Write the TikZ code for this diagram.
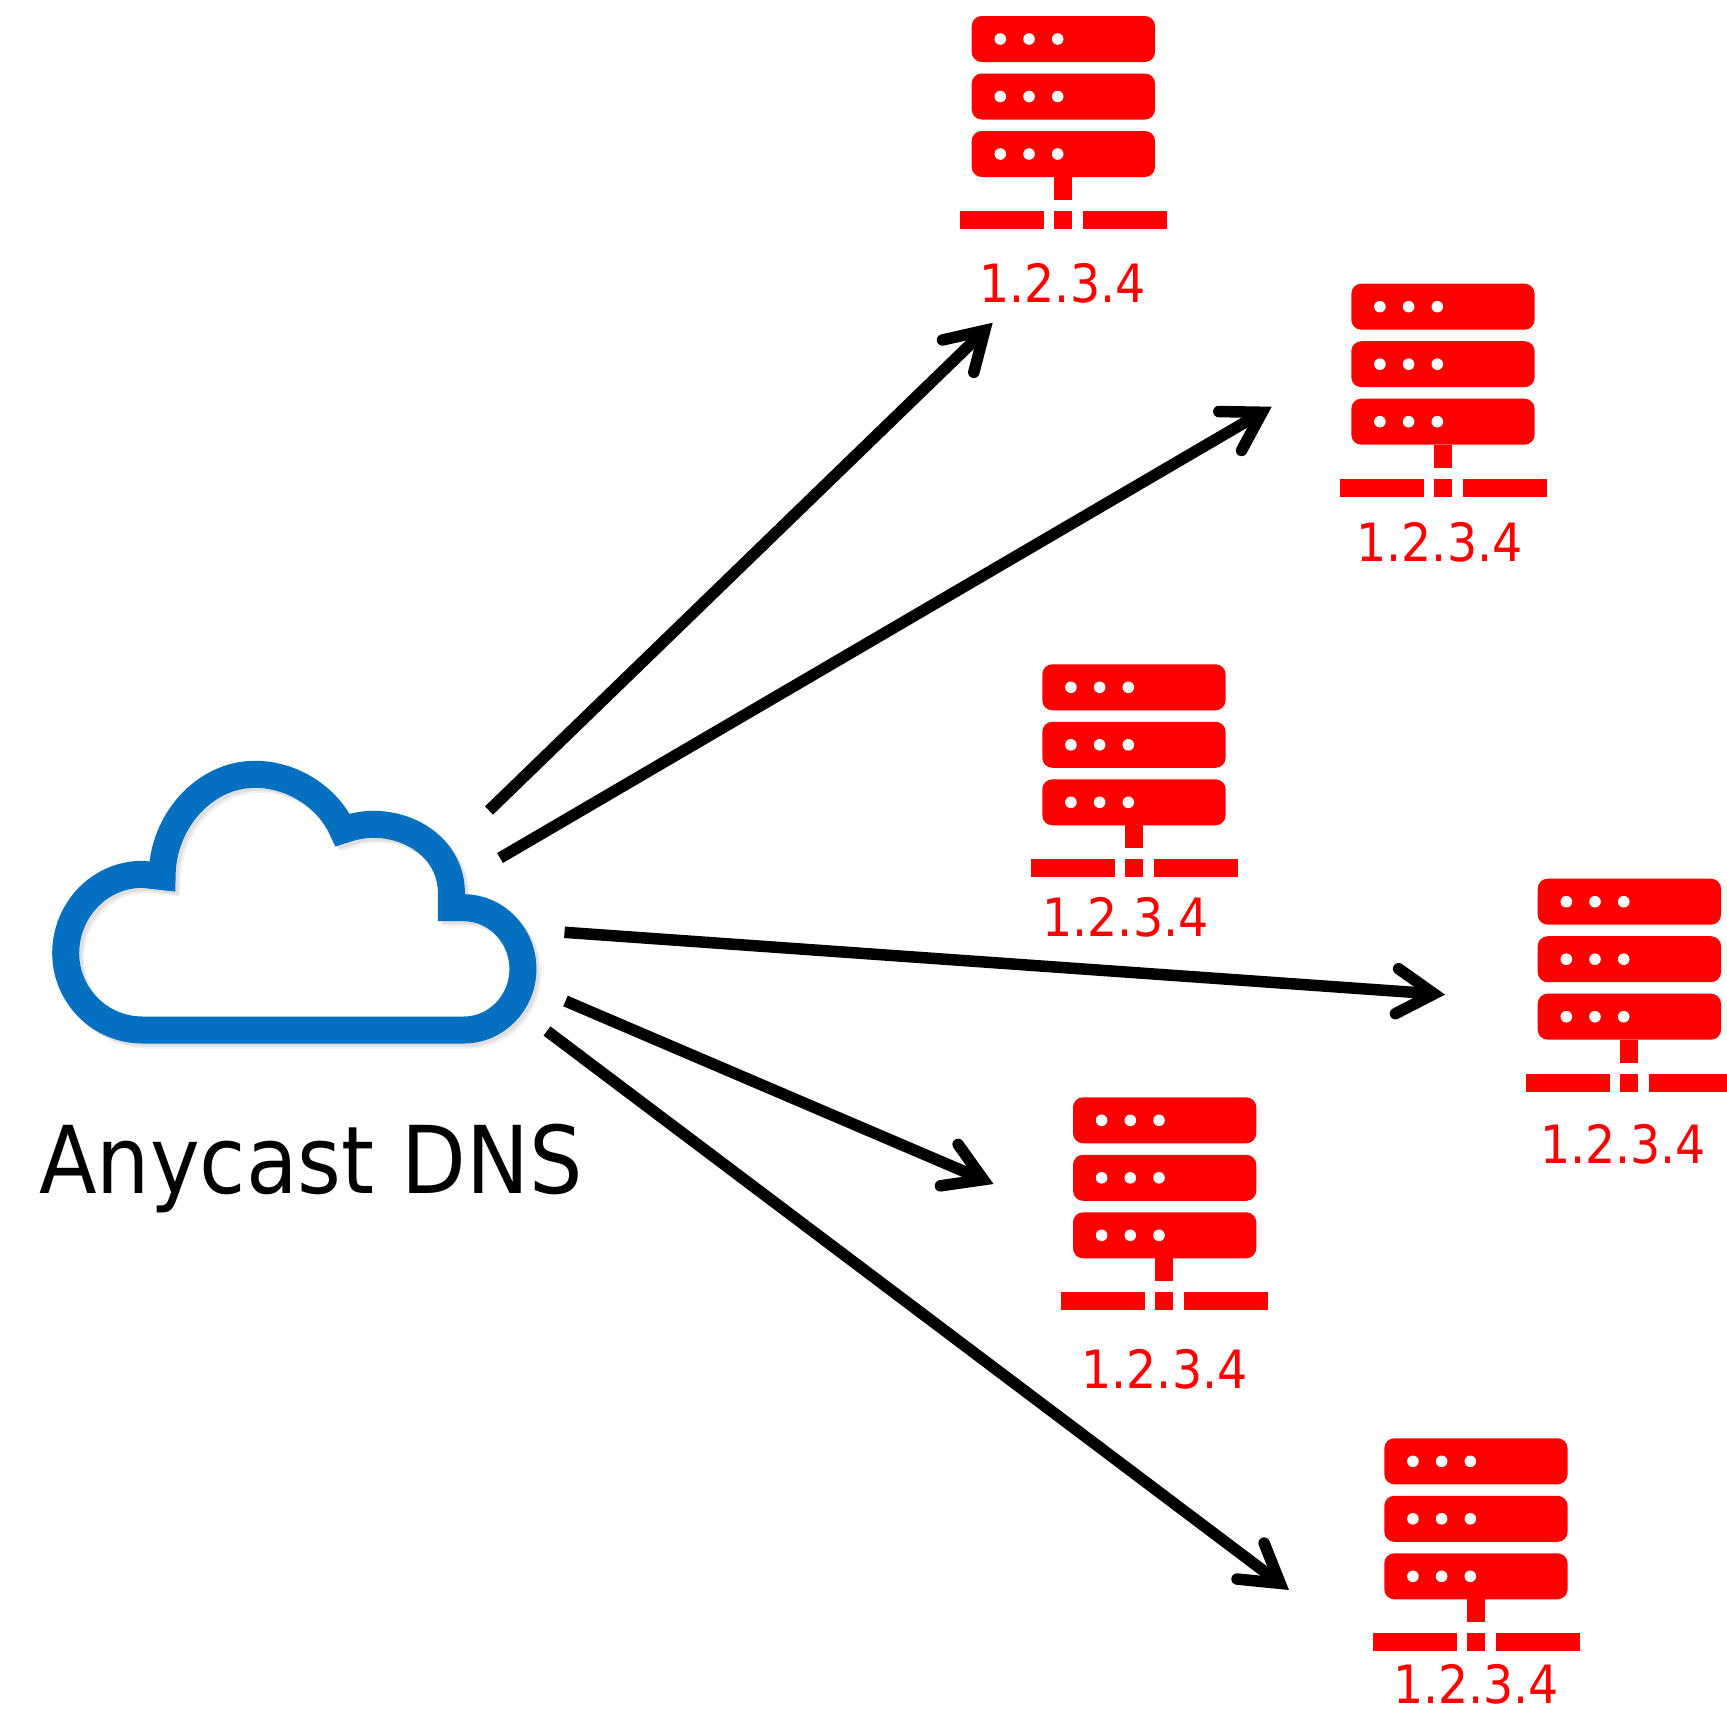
\documentclass[tikz,border=0pt]{standalone}
\usepackage{fontspec}
\setmainfont{DejaVu Sans Condensed}
\usetikzlibrary{arrows.meta}

\definecolor{cloudblue}{HTML}{0570C0}

\tikzset{
    addr/.style={text=red, font=\fontsize{15}{18}\selectfont, anchor=base, inner sep=0pt},
    title/.style={text=black, font=\fontsize{26.6}{32}\selectfont, anchor=base, inner sep=0pt},
    rack/.style={fill=red, rounded corners=0.1cm},
    led/.style={fill=white},
    server/.pic={
        \fill [rack] (0,0) rectangle (183.3,46);
        \fill [rack] (0,57.5) rectangle (183.3,103.5);
        \fill [rack] (0,115) rectangle (183.3,161);
        \fill [led] (28.6,23) circle [radius=5.8];
        \fill [led] (57.3,23) circle [radius=5.8];
        \fill [led] (86,23) circle [radius=5.8];
        \fill [led] (28.6,80.5) circle [radius=5.8];
        \fill [led] (57.3,80.5) circle [radius=5.8];
        \fill [led] (86,80.5) circle [radius=5.8];
        \fill [led] (28.6,138) circle [radius=5.8];
        \fill [led] (57.3,138) circle [radius=5.8];
        \fill [led] (86,138) circle [radius=5.8];
        \fill [red] (82.3,161) rectangle (100.3,184);
        \fill [red] (-11.7,195) rectangle (72.3,213);
        \fill [red] (82.3,195) rectangle (100.3,213);
        \fill [red] (111.3,195) rectangle (195.3,213);
    }
}

\newcommand{\cloudpath}{
    (142.5,1030) .. controls (99.6,1030) and (65.7,995) .. (65.7,953.3)
    .. controls (65.7,910) and (99.6,874.3) .. (142.5,874.3)
    -- (162.1,876.5)
    .. controls (162.1,822) and (204,774.3) .. (255,774.3)
    .. controls (290,774.3) and (326.8,795) .. (342.5,830)
    .. controls (351.4,827) and (362.1,824.3) .. (372.9,824.3)
    .. controls (414,824.3) and (451.4,851) .. (451.4,893.3)
    -- (451.4,907.7) -- (463.9,907.7)
    .. controls (496,907.7) and (522.9,935) .. (522.9,969)
    .. controls (522.9,1003) and (496,1030) .. (463.9,1030)
    -- cycle
}

\begin{document}
\begin{tikzpicture}[x=0.01cm, y=-0.01cm, >={Straight Barb[length=0.37cm, width=0.45cm, line cap=round, line join=miter]}]
    \useasboundingbox (0,0) rectangle (1727,1709);

    % Cloud
    \draw [gray, opacity=0.12, line width=0.27cm, miter limit=10, xshift=0.05cm, yshift=-0.05cm] \cloudpath;
    \draw [gray, opacity=0.15, line width=0.27cm, miter limit=10, xshift=0.03cm, yshift=-0.03cm] \cloudpath;
    \draw [cloudblue, line width=0.27cm, miter limit=10] \cloudpath;
    \node [title] (anycast) at (311,1193) {Anycast DNS};

    % Servers
    \pic at (971.7,16)  {server};
    \pic at (1351.3,283.7) {server};
    \pic at (1042.3,664.3)  {server};
    \pic at (1537.7,878.7) {server};
    \pic at (1073,1097.3) {server};
    \pic at (1384.3,1438.3) {server};

    % Addresses
    \node [addr] (addr1) at (1062.5,302)  {1.2.3.4};
    \node [addr] (addr2) at (1439.5,561)  {1.2.3.4};
    \node [addr] (addr3) at (1125.5,936) {1.2.3.4};
    \node [addr] (addr4) at (1623,1163) {1.2.3.4};
    \node [addr] (addr5) at (1164.5,1388.5) {1.2.3.4};
    \node [addr] (addr6) at (1476,1703) {1.2.3.4};

    % Arrow ends
    \coordinate (out1) at (489,810.5);
    \coordinate (out2) at (500,858);
    \coordinate (out3) at (564.5,932.3);
    \coordinate (out4) at (565.5,1001);
    \coordinate (out5) at (547,1031);
    \coordinate (in1) at (992.7,322.7);
    \coordinate (in2) at (1271.7,406.7);
    \coordinate (in3) at (1445,994.6);
    \coordinate (in4) at (993.5,1184);
    \coordinate (in5) at (1289,1590);

    % Paths
    \path [->, line width=0.115cm] (out1) edge (in1);
    \path [->, line width=0.115cm] (out2) edge (in2);
    \path [->, line width=0.115cm] (out3) edge (in3);
    \path [->, line width=0.115cm] (out4) edge (in4);
    \path [->, line width=0.115cm] (out5) edge (in5);
\end{tikzpicture}
\end{document}
